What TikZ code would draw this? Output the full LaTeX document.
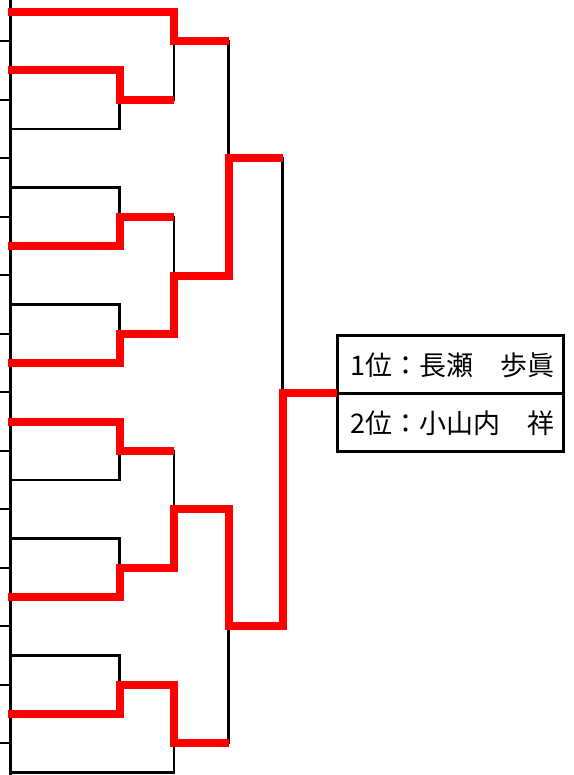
\documentclass[tikz,border=0pt]{standalone}
\usepackage{fontspec}
\newfontfamily\jp{Noto Sans CJK JP}
\begin{document}
\begin{tikzpicture}[x=1pt,y=-1pt,
  bk/.style={draw=black,line width=2.2pt},
  rd/.style={draw=red,line width=8pt},
  tk/.style={draw=black,line width=2pt},
  rowbox/.style={draw=black,line width=3pt,minimum width=226pt,minimum height=58pt,anchor=north west,inner sep=0pt,outer sep=0pt},
  lbl/.style={anchor=west,font=\jp\fontsize{27}{27}\selectfont,inner sep=0pt}]
\useasboundingbox (0,0) rectangle (573,775);
% players
\foreach \i in {0,...,13} \coordinate (p\i) at (10.5,{12+58.5*\i});
% ticks
\foreach \k in {0,...,12} \coordinate (t\k) at (10.5,{41.25+58.5*\k});
\coordinate (ltop) at (10.5,0);
\coordinate (lbot) at (10.5,775);
% match points
\coordinate (a1) at (119.5,99.75);
\coordinate (a2) at (119.5,216.75);
\coordinate (a3) at (119.5,333.75);
\coordinate (a4) at (119.5,450.75);
\coordinate (a5) at (119.5,567.75);
\coordinate (a6) at (119.5,684.75);
\coordinate (b1) at (174,41.25);
\coordinate (b2) at (174,275.5);
\coordinate (b3) at (174,509.25);
\coordinate (b4) at (174,743.25);
\coordinate (c1) at (228.5,158.25);
\coordinate (c2) at (228.5,626.25);
\coordinate (f) at (282.5,393);
% result box
\node[rowbox] (r1) at (337,335) {};
\node[rowbox] (r2) at (337,393) {};
\node[lbl] (l1) at ([xshift=13pt,yshift=-1pt]r1.west) {1位：長瀬　歩眞};
\node[lbl] (l2) at ([xshift=13pt,yshift=-1pt]r2.west) {2位：小山内　祥};
% left rule and ticks
\draw[bk,line width=3pt] (ltop) -- (lbot);
\foreach \k in {0,...,12} \draw[tk] (t\k) -- ++(-10.5,0);
% black bracket
\draw[bk] (p1) -| (a1) |- (p2);
\draw[bk] (p3) -| (a2) |- (p4);
\draw[bk] (p5) -| (a3) |- (p6);
\draw[bk] (p7) -| (a4) |- (p8);
\draw[bk] (p9) -| (a5) |- (p10);
\draw[bk] (p11) -| (a6) |- (p12);
\draw[bk] (p0) -| (b1) |- (a1);
\draw[bk] (a2) -| (b2) |- (a3);
\draw[bk] (a4) -| (b3) |- (a5);
\draw[bk] (a6) -| (b4) |- (p13);
\draw[bk] (b1) -| (c1) |- (b2);
\draw[bk] (b3) -| (c2) |- (b4);
\draw[bk] (c1) -| (f) |- (c2);
% red winner paths
\draw[rd] ([xshift=-2.5pt]p0) -| (b1) -- (c1 |- b1);
\draw[rd] ([xshift=-2.5pt]p1) -| (a1) -- (b1 |- a1);
\draw[rd] ([xshift=-2.5pt]p4) -| (a2) -- (b2 |- a2);
\draw[rd] ([xshift=-2.5pt]p6) -| (a3) -| (b2) -| (c1) -- (f |- c1);
\draw[rd] ([xshift=-2.5pt]p7) -| (a4) -- (b3 |- a4);
\draw[rd] ([xshift=-2.5pt]p10) -| (a5) -| (b3) -| (c2) -| (f) -- (f -| r1.west);
\draw[rd] ([xshift=-2.5pt]p12) -| (a6) -| (b4) -- (c2 |- b4);
\end{tikzpicture}
\end{document}
